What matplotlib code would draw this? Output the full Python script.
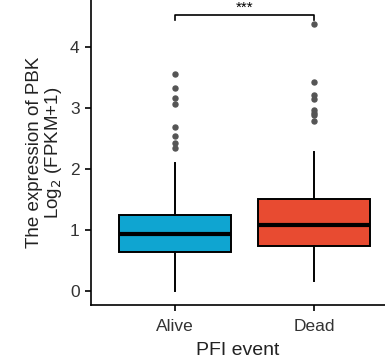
import matplotlib
matplotlib.use("Agg")
import matplotlib.pyplot as plt
import numpy as np

plt.rcParams['font.family'] = ['Liberation Sans', 'DejaVu Sans']

categories = ["Alive", "Dead"]
colors = ["#0FA5D1", "#E84B31"]
# box statistics: whislo, q1, med, q3, whishi
whislo = [0.00, 0.16]
q1 = [0.64, 0.74]
med = [0.93, 1.08]
q3 = [1.25, 1.50]
whishi = [2.10, 2.28]
fliers = [
    [3.55, 3.33, 3.17, 3.07, 2.69, 2.54, 2.43, 2.34],
    [4.38, 3.43, 3.22, 3.14, 2.97, 2.92, 2.88, 2.79],
]
yticks = [0, 1, 2, 3, 4]
sig_label = "***"

fig = plt.figure(figsize=(3.85, 3.58), dpi=100)
ax = fig.add_axes([0.236, 0.148, 0.764, 0.852])

stats = []
for i, c in enumerate(categories):
    stats.append(dict(label=c, whislo=whislo[i], q1=q1[i], med=med[i], q3=q3[i],
                      whishi=whishi[i], fliers=fliers[i]))
pos = np.arange(len(categories))
bp = ax.bxp(stats, positions=pos, widths=0.81, patch_artist=True, showcaps=False,
            boxprops=dict(linewidth=1.4, edgecolor='black'),
            medianprops=dict(color='black', linewidth=3.0),
            whiskerprops=dict(linewidth=1.4, color='black'),
            flierprops=dict(marker='o', markersize=3.6, markerfacecolor='#555555',
                            markeredgecolor='#555555', linestyle='none'))
for patch, col in zip(bp['boxes'], colors):
    patch.set_facecolor(col)

ax.set_xlim(-0.604, 1.51)
ax.set_ylim(-0.23, 4.77)
ax.set_yticks(yticks)
ax.set_xticks(pos)
ax.set_xticklabels(categories)
ax.spines['top'].set_visible(False)
ax.spines['right'].set_visible(False)
ax.spines['left'].set_linewidth(1.2)
ax.spines['bottom'].set_linewidth(1.2)
ax.tick_params(axis='both', labelsize=12.5, width=1.2, length=4, color='black',
               labelcolor='#333333', pad=4)
ax.tick_params(axis='x', pad=6)
ax.set_xlabel("PFI event", fontsize=14, color='#222222', labelpad=6)
ax.set_ylabel("The expression of PBK\nLog$_2$ (FPKM+1)", fontsize=13.5,
              color='#222222', labelpad=4, linespacing=1.05)

# significance bracket
ybr = 4.52
ax.plot([pos[0], pos[0], pos[1], pos[1]], [ybr - 0.08, ybr, ybr, ybr - 0.08],
        color='black', linewidth=1.2)
ax.text((pos[0] + pos[1]) / 2, ybr + 0.01, sig_label, ha='center', va='bottom',
        fontsize=11)

fig.savefig("out.png", dpi=100)
